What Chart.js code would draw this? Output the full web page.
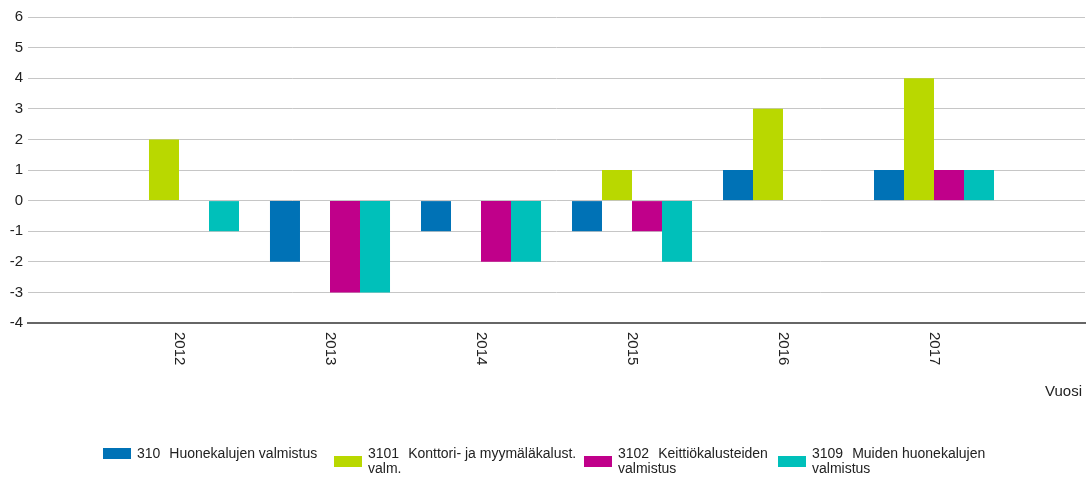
<!DOCTYPE html>
<html>
<head>
<meta charset="utf-8">
<script src="https://cdn.jsdelivr.net/npm/chart.js@4/dist/chart.umd.min.js"></script>
<style>
  html, body { margin: 0; padding: 0; background: #fff; }
  #wrap { width: 1089px; height: 480px; position: relative; }
</style>
</head>
<body>
<div id="wrap"><canvas id="c"></canvas></div>
<script>
// ---- Data ----
const years = ['2012', '2013', '2014', '2015', '2016', '2017'];
const s310  = [0, -2, -1, -1, 1, 1];
const s3101 = [2, 0, 0, 1, 3, 4];
const s3102 = [0, -3, -2, -1, 0, 1];
const s3109 = [-1, -3, -2, -2, 0, 1];
const seriesCodes = ['310', '3101', '3102', '3109'];
const seriesNames = [
  ['Huonekalujen valmistus'],
  ['Konttori- ja myymäläkalust.', 'valm.'],
  ['Keittiökalusteiden', 'valmistus'],
  ['Muiden huonekalujen', 'valmistus']
];
const seriesColors = ['#0072B6', '#B9D800', '#C0008A', '#00C0BA'];
const yTicks = [-4, -3, -2, -1, 0, 1, 2, 3, 4, 5, 6];
const axisTitle = 'Vuosi';

// category slots: an empty slot before and after the years
const labels = [''].concat(years, ['']);
const pad = arr => [null].concat(arr, [null]);
const allSeries = [s310, s3101, s3102, s3109];

const FONT = '"Liberation Sans", Arial, sans-serif';

const customDraw = {
  id: 'customDraw',
  afterDraw(chart) {
    const ctx = chart.ctx;
    const xs = chart.scales.x;
    ctx.save();
    ctx.fillStyle = '#222';
    // rotated year labels (reading top-to-bottom)
    ctx.font = '15px ' + FONT;
    years.forEach((y, i) => {
      const px = xs.getPixelForValue(i + 1);
      ctx.save();
      ctx.translate(px, xs.top + 9);
      ctx.rotate(Math.PI / 2);
      ctx.textAlign = 'left';
      ctx.textBaseline = 'middle';
      ctx.fillText(y, 0, 0);
      ctx.restore();
    });
    // axis title
    ctx.textAlign = 'right';
    ctx.textBaseline = 'middle';
    ctx.fillText(axisTitle, 1082, 392);

    // legend
    ctx.font = '14px ' + FONT;
    ctx.textAlign = 'left';
    const itemX = [103, 334, 584, 778];
    seriesCodes.forEach((code, i) => {
      const x = itemX[i];
      const lines = seriesNames[i];
      const boxY = lines.length > 1 ? 456 : 448;
      ctx.fillStyle = seriesColors[i];
      ctx.fillRect(x, boxY, 28, 11);
      ctx.fillStyle = '#222';
      const tx = x + 34;
      ctx.fillText(code, tx, 454);
      const cw = ctx.measureText(code).width;
      ctx.fillText(lines[0], tx + cw + 9, 454);
      if (lines[1]) ctx.fillText(lines[1], tx, 469);
    });
    ctx.restore();
  }
};

new Chart(document.getElementById('c'), {
  type: 'bar',
  data: {
    labels: labels,
    datasets: seriesCodes.map((code, i) => ({
      label: code + ' ' + seriesNames[i].join(' '),
      data: pad(allSeries[i]),
      backgroundColor: seriesColors[i],
      borderWidth: 0,
      barPercentage: 1.0,
      categoryPercentage: 0.795
    }))
  },
  options: {
    responsive: true,
    maintainAspectRatio: false,
    animation: false,
    devicePixelRatio: 1,
    layout: { padding: { top: 17, right: 4, left: 0, bottom: 0 } },
    plugins: {
      legend: { display: false },
      tooltip: { enabled: false },
      title: { display: false }
    },
    scales: {
      x: {
        type: 'category',
        offset: false,
        grid: { display: false, drawTicks: false },
        border: { display: true, color: '#666', width: 2 },
        ticks: { display: false },
        afterFit: s => { s.height = 157; }
      },
      y: {
        min: -4,
        max: 6,
        afterBuildTicks: s => { s.ticks = yTicks.map(v => ({ value: v })); },
        grid: { color: '#c6c6c6', lineWidth: 1, drawTicks: false },
        border: { display: false },
        ticks: {
          padding: 5,
          color: '#222',
          font: { family: FONT, size: 15 }
        },
        afterFit: s => { s.width = 28; }
      }
    }
  },
  plugins: [customDraw]
});
</script>
</body>
</html>
